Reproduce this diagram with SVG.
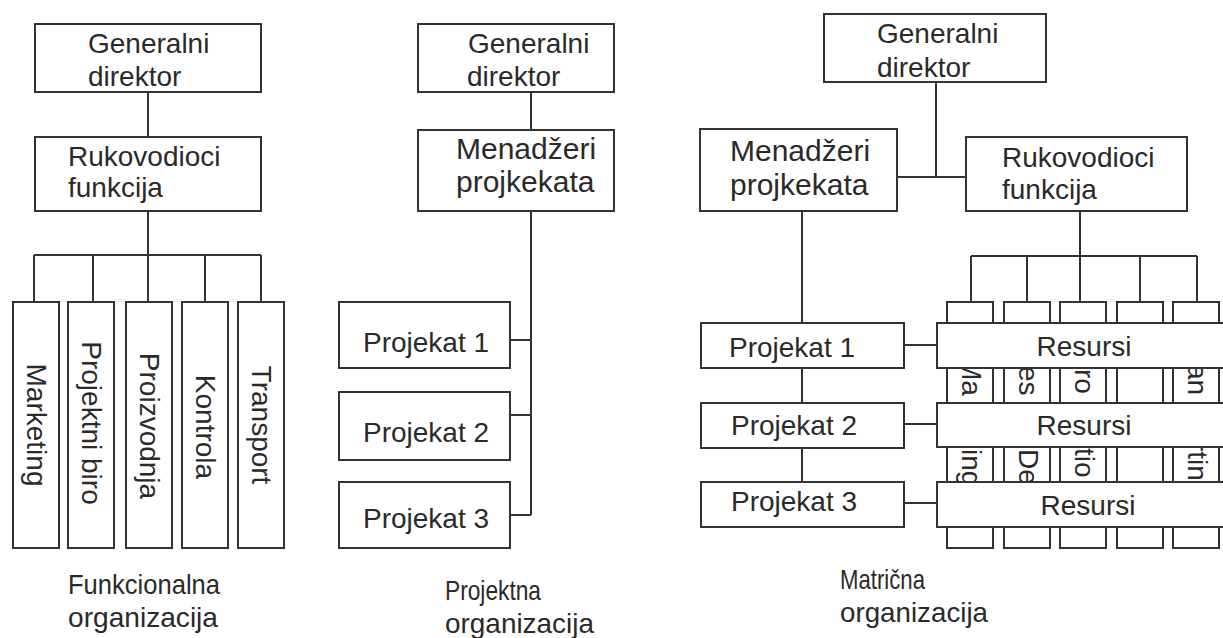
<svg xmlns="http://www.w3.org/2000/svg" width="1223" height="638" viewBox="0 0 1223 638">
<style>
.b{fill:#fff;stroke:#333;stroke-width:2}
.t{font-family:"Liberation Sans",Arial,sans-serif;font-size:28px;fill:#2a2a2a}
.m{font-size:30px}
.c{text-anchor:middle}
.l{fill:none;stroke:#333;stroke-width:2}
.cap{font-family:"Liberation Sans",Arial,sans-serif;font-size:28px;fill:#2a2a2a}
</style>
<rect width="1223" height="638" fill="#fff"/>
<g id="connectors" class="l">
<path d="M148 92V137M148 211V255M34 255H261M34 255V302M93 255V302M148 255V302M205 255V302M261 255V302"/>
<path d="M531 92V130M531 211V515M510 340H531M510 415H531M510 515H531"/>
<path d="M936 82V177M897 177H966M802 211V323M802 368V403M802 448V482M904 345H937M904 424H937M904 503H937M1080 211V256M971 256H1197M971 256V302M1027 256V302M1080 256V302M1140 256V302M1197 256V302"/>
</g>
<g id="f-gd"><rect class="b" x="35" y="24" width="226" height="68"/><text class="t" x="88" y="53">Generalni</text><text class="t" x="88" y="86">direktor</text></g>
<g id="f-rf"><rect class="b" x="35" y="137" width="226" height="74"/><text class="t" x="68" y="166">Rukovodioci</text><text class="t" x="68" y="197">funkcija</text></g>
<g id="f-marketing"><rect class="b" x="13" y="302" width="46" height="246"/><text class="t c" transform="translate(27 425) rotate(90)">Marketing</text></g>
<g id="f-biro"><rect class="b" x="68" y="302" width="46" height="246"/><text class="t c" transform="translate(82 423) rotate(90)">Projektni biro</text></g>
<g id="f-proizvodnja"><rect class="b" x="126" y="302" width="46" height="246"/><text class="t c" transform="translate(140 426) rotate(90)">Proizvodnja</text></g>
<g id="f-kontrola"><rect class="b" x="182" y="302" width="46" height="246"/><text class="t c" transform="translate(196 427) rotate(90)">Kontrola</text></g>
<g id="f-transport"><rect class="b" x="238" y="302" width="46" height="246"/><text class="t c" transform="translate(252 425) rotate(90)">Transport</text></g>
<g id="p-gd"><rect class="b" x="418" y="24" width="196" height="68"/><text class="t" x="468" y="53">Generalni</text><text class="t" x="467" y="86">direktor</text></g>
<g id="p-mp"><rect class="b" x="418" y="130" width="196" height="81"/><text class="t m" x="456" y="159">Menadžeri</text><text class="t m" x="456" y="192">projkekata</text></g>
<g id="p-p1"><rect class="b" x="339" y="302" width="171" height="66"/><text class="t" x="363" y="352">Projekat 1</text></g>
<g id="p-p2"><rect class="b" x="339" y="392" width="171" height="68"/><text class="t" x="363" y="442">Projekat 2</text></g>
<g id="p-p3"><rect class="b" x="339" y="482" width="171" height="66"/><text class="t" x="363" y="528">Projekat 3</text></g>
<g id="m-gd"><rect class="b" x="824" y="14" width="222" height="68"/><text class="t" x="877" y="43">Generalni</text><text class="t" x="877" y="77">direktor</text></g>
<g id="m-mp"><rect class="b" x="700" y="129" width="197" height="82"/><text class="t m" x="730" y="161">Menadžeri</text><text class="t m" x="730" y="195">projkekata</text></g>
<g id="m-rf"><rect class="b" x="966" y="137" width="221" height="74"/><text class="t" x="1002" y="167">Rukovodioci</text><text class="t" x="1002" y="199">funkcija</text></g>
<g id="m-p1"><rect class="b" x="701" y="323" width="203" height="45"/><text class="t" x="729" y="357">Projekat 1</text></g>
<g id="m-p2"><rect class="b" x="701" y="403" width="203" height="45"/><text class="t" x="731" y="435">Projekat 2</text></g>
<g id="m-p3"><rect class="b" x="701" y="482" width="203" height="45"/><text class="t" x="731" y="511">Projekat 3</text></g>
<g id="m-cols">
<rect class="b" x="947" y="302" width="46" height="246"/>
<rect class="b" x="1004" y="302" width="46" height="246"/>
<rect class="b" x="1060" y="302" width="46" height="246"/>
<rect class="b" x="1117" y="302" width="46" height="246"/>
<rect class="b" x="1173" y="302" width="46" height="246"/>
<text class="t" transform="translate(962 357) rotate(90)">Ma</text>
<text class="t" transform="translate(1019 366) rotate(90)">es</text>
<text class="t" transform="translate(1075 369) rotate(90)">ro</text>
<text class="t" transform="translate(1188 364) rotate(90)">an</text>
<text class="t" transform="translate(962 449) rotate(90)">ing</text>
<text class="t" transform="translate(1019 449) rotate(90)">De</text>
<text class="t" transform="translate(1075 448) rotate(90)">tio</text>
<text class="t" transform="translate(1188 442) rotate(90)">rtin</text>
</g>
<g id="m-r1"><rect class="b" x="937" y="323" width="300" height="45"/><text class="t c" x="1084" y="356">Resursi</text></g>
<g id="m-r2"><rect class="b" x="937" y="403" width="300" height="44"/><text class="t c" x="1084" y="435">Resursi</text></g>
<g id="m-r3"><rect class="b" x="937" y="482" width="300" height="45"/><text class="t c" x="1088" y="515">Resursi</text></g>
<g id="captions">
<text class="cap" x="68" y="594" textLength="152" lengthAdjust="spacingAndGlyphs">Funkcionalna</text>
<text class="cap" x="68" y="627" textLength="150" lengthAdjust="spacingAndGlyphs">organizacija</text>
<text class="cap" x="445" y="600" textLength="96" lengthAdjust="spacingAndGlyphs">Projektna</text>
<text class="cap" x="445" y="633" textLength="149" lengthAdjust="spacingAndGlyphs">organizacija</text>
<text class="cap" x="840" y="589" textLength="85" lengthAdjust="spacingAndGlyphs">Matrična</text>
<text class="cap" x="840" y="622" textLength="148" lengthAdjust="spacingAndGlyphs">organizacija</text>
</g>
</svg>
